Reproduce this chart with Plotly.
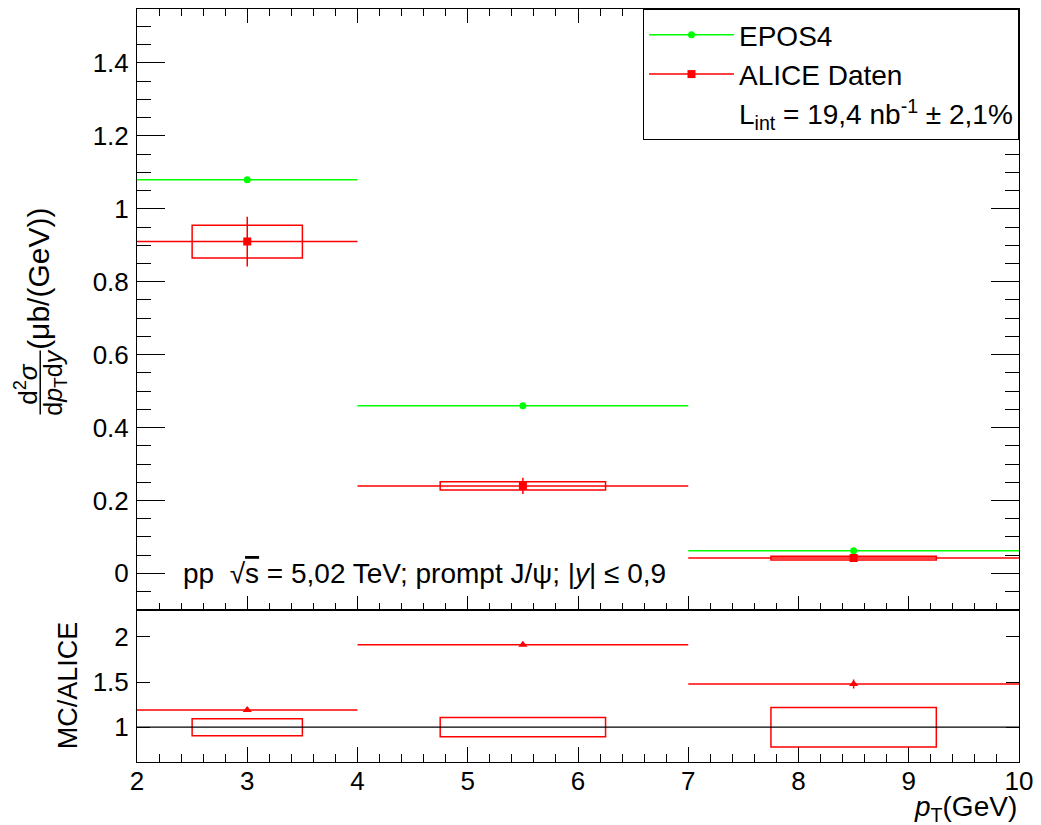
import plotly.graph_objects as go

# ---------------- data ----------------
bin_centers = [3.0, 5.5, 8.5]
bin_halfwidths = [1.0, 1.5, 1.5]
epos4 = [1.08, 0.46, 0.062]
alice = [0.91, 0.24, 0.042]
alice_stat = [0.068, 0.022, 0.004]
alice_sys = [0.045, 0.011, 0.005]
sys_box_halfwidths = [0.5, 0.75, 0.75]
ratio = [1.19, 1.915, 1.48]
ratio_stat = [0.01, 0.01, 0.05]
ratio_sys = [0.094, 0.107, 0.219]
x_tick_values = [2, 3, 4, 5, 6, 7, 8, 9, 10]

# ---------------- layout geometry ----------------
W, H = 1041, 825
L, R, T, B = 137, 20, 8, 63
PW, PH = W - L - R, H - T - B
split = (762 - 610) / PH

def px(xp):
    return (xp - L) / PW

def py(yp):
    return (H - B - yp) / PH

GREEN = "#00ff00"
RED = "#ff0000"
FONT = "Liberation Sans, Arial, Helvetica, sans-serif"
FS_TICK = 26
FS_TEXT = 28

fig = go.Figure()

# EPOS4
fig.add_trace(go.Scatter(
    x=bin_centers, y=epos4, mode="markers", showlegend=False,
    marker=dict(symbol="circle", size=7, color=GREEN),
    error_x=dict(type="data", array=bin_halfwidths, color=GREEN, thickness=1.5, width=0),
    xaxis="x", yaxis="y"))

# ALICE
fig.add_trace(go.Scatter(
    x=bin_centers, y=alice, mode="markers", showlegend=False,
    marker=dict(symbol="square", size=8, color=RED),
    error_x=dict(type="data", array=bin_halfwidths, color=RED, thickness=1.5, width=0),
    error_y=dict(type="data", array=alice_stat, color=RED, thickness=1.5, width=0),
    xaxis="x", yaxis="y"))

# Ratio
fig.add_trace(go.Scatter(
    x=bin_centers, y=ratio, mode="markers", showlegend=False,
    marker=dict(symbol="triangle-up", size=8, color=RED),
    error_x=dict(type="data", array=bin_halfwidths, color=RED, thickness=1.5, width=0),
    error_y=dict(type="data", array=ratio_stat, color=RED, thickness=1.5, width=0),
    xaxis="x2", yaxis="y2"))

# legend entries
fig.add_trace(go.Scatter(x=[None], y=[None], mode="lines+markers", name="EPOS4",
                         legendgroup="a",
                         line=dict(color=GREEN, width=1.5),
                         marker=dict(symbol="circle", size=7, color=GREEN)))
fig.add_trace(go.Scatter(x=[None], y=[None], mode="lines+markers", name="ALICE Daten",
                         legendgroup="b",
                         line=dict(color=RED, width=1.5),
                         marker=dict(symbol="square", size=8, color=RED)))
fig.add_trace(go.Scatter(x=[None], y=[None], mode="lines",
                         name="L<sub>int</sub> = 19,4 nb<sup>-1</sup> \u00b1 2,1%",
                         legendgroup="c",
                         line=dict(color="rgba(0,0,0,0)", width=0)))

shapes = []
# systematic boxes
for xc, yv, s, hw in zip(bin_centers, alice, alice_sys, sys_box_halfwidths):
    shapes.append(dict(type="rect", xref="x", yref="y", x0=xc - hw, x1=xc + hw,
                       y0=yv - s, y1=yv + s, line=dict(color=RED, width=1.5)))
for xc, s, hw in zip(bin_centers, ratio_sys, sys_box_halfwidths):
    shapes.append(dict(type="rect", xref="x2", yref="y2", x0=xc - hw, x1=xc + hw,
                       y0=1 - s, y1=1 + s, line=dict(color=RED, width=1.5)))
# unity line
shapes.append(dict(type="line", xref="x2", yref="y2", x0=x_tick_values[0], x1=x_tick_values[-1],
                   y0=1, y1=1, line=dict(color="black", width=1.2)))
# fraction bar of y title
shapes.append(dict(type="line", xref="paper", yref="paper", x0=px(40), x1=px(40),
                   y0=py(350), y1=py(414), line=dict(color="black", width=1.5)))

annotations = [
    dict(text="d<sup>2</sup><i>\u03c3</i>", x=px(26), y=py(383), textangle=-90, size=26),
    dict(text="d<i>p</i><sub>T</sub>d<i>y</i>", x=px(54), y=py(382), textangle=-90, size=25),
    dict(text="(\u03bcb/(GeV))", x=px(38), y=py(278), textangle=-90, size=30),
    dict(text="MC/ALICE", x=px(68), y=py(685), textangle=-90, size=27),
]
for a in annotations:
    s = a.pop("size")
    a.update(xref="paper", yref="paper", showarrow=False, xanchor="center", yanchor="middle",
             font=dict(size=s, family=FONT, color="black"))
annotations.append(dict(text="<i>p</i><sub>T</sub>(GeV)", xref="paper", yref="paper",
                        x=1, y=py(809), xanchor="right", yanchor="middle", showarrow=False,
                        font=dict(size=FS_TEXT, family=FONT, color="black")))
annotations.append(dict(
    text="pp  \u221a<span style='text-decoration:overline'>s</span> = 5,02 TeV; prompt J/\u03c8; |<i>y</i>| \u2264 0,9",
    xref="paper", yref="paper", x=px(181), y=py(573), xanchor="left", yanchor="middle",
    showarrow=False, font=dict(size=FS_TEXT, family=FONT, color="black")))

axis_common = dict(showgrid=False, zeroline=False, showline=True, linecolor="black",
                   linewidth=1, ticks="inside", tickcolor="black", tickwidth=1,
                   mirror="ticks", tickfont=dict(size=FS_TICK, family=FONT, color="black"))

fig.update_layout(
    width=W, height=H,
    margin=dict(l=L, r=R, t=T, b=B, pad=0),
    plot_bgcolor="white", paper_bgcolor="white",
    font=dict(family=FONT, size=FS_TEXT, color="black"),
    shapes=shapes, annotations=annotations,
    legend=dict(x=1, y=1, xanchor="right", yanchor="top", bgcolor="white",
                bordercolor="black", borderwidth=1, tracegroupgap=0,
                font=dict(size=FS_TEXT, family=FONT), itemwidth=85),
    xaxis=dict(axis_common, domain=[0, 1], anchor="y", range=[2, 10], tick0=2, dtick=1,
               ticklen=14, showticklabels=False, matches="x2",
               minor=dict(ticks="inside", ticklen=7, dtick=0.2, tickcolor="black", showgrid=False)),
    yaxis=dict(axis_common, domain=[split, 1], anchor="x", range=[-0.101, 1.548], tick0=0, dtick=0.2,
               ticklen=28, ticklabelstandoff=2,
               minor=dict(ticks="inside", ticklen=14, dtick=0.05, tickcolor="black", showgrid=False)),
    xaxis2=dict(axis_common, domain=[0, 1], anchor="y2", range=[2, 10],
                tickvals=x_tick_values, ticklen=15, mirror=True, ticklabelstandoff=-4,
                minor=dict(ticks="inside", ticklen=8, dtick=0.2, tickcolor="black", showgrid=False)),
    yaxis2=dict(axis_common, domain=[0, split], anchor="x2", range=[0.614, 2.297], tick0=0, dtick=0.5,
                ticklen=13, ticklabelstandoff=2),
)

fig.write_html("out.html", config={"displayModeBar": False},
               post_script="document.body.style.margin='0';document.body.style.overflow='hidden';")
